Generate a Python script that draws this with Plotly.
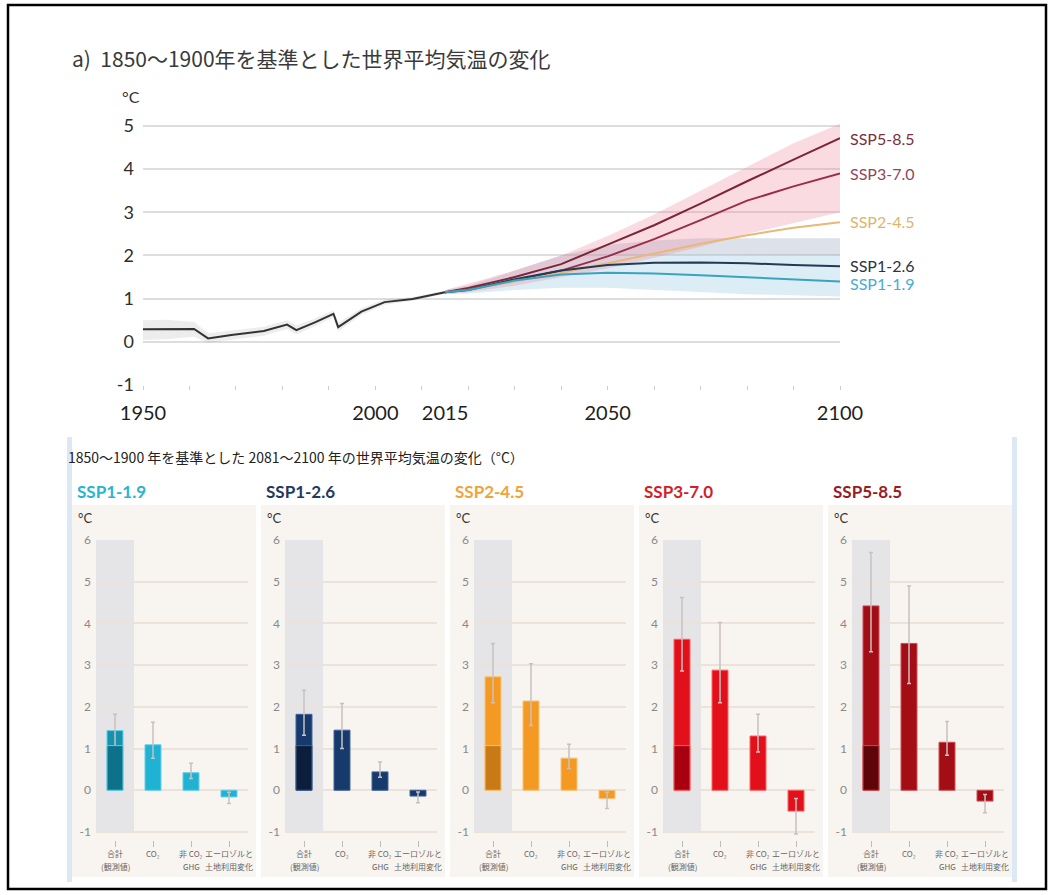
import plotly.graph_objects as go

W, H = 1052, 895

# ---------------- Top chart data ----------------
hist_years = [1950, 1955, 1961, 1964, 1969, 1976, 1981, 1983, 1987, 1991, 1992, 1997, 2002, 2008, 2015]
hist_vals = [0.29, 0.30, 0.30, 0.08, 0.16, 0.25, 0.40, 0.27, 0.45, 0.65, 0.34, 0.70, 0.92, 0.99, 1.15]
hist_lo = [0.04, 0.06, 0.12, -0.03, 0.05, 0.14, 0.30, 0.17, 0.36, 0.57, 0.24, 0.62, 0.86, 0.95, 1.11]
hist_hi = [0.50, 0.51, 0.46, 0.20, 0.26, 0.35, 0.50, 0.38, 0.54, 0.73, 0.44, 0.78, 0.98, 1.04, 1.19]

proj_years = [2015, 2020, 2030, 2040, 2050, 2060, 2070, 2080, 2090, 2100]
ssp585 = [1.15, 1.25, 1.50, 1.80, 2.25, 2.70, 3.20, 3.72, 4.22, 4.72]
ssp370 = [1.15, 1.22, 1.42, 1.65, 1.98, 2.38, 2.82, 3.27, 3.60, 3.90]
ssp245 = [1.15, 1.20, 1.40, 1.60, 1.82, 2.05, 2.27, 2.47, 2.64, 2.77]
ssp126 = [1.15, 1.20, 1.45, 1.65, 1.78, 1.83, 1.84, 1.82, 1.78, 1.75]
ssp119 = [1.15, 1.20, 1.42, 1.56, 1.60, 1.58, 1.54, 1.49, 1.44, 1.40]
red_lo = [1.10, 1.15, 1.30, 1.50, 1.70, 1.95, 2.20, 2.50, 2.75, 3.00]
red_hi = [1.20, 1.35, 1.65, 2.00, 2.45, 2.95, 3.50, 4.05, 4.60, 5.05]
blue_lo = [1.10, 1.12, 1.20, 1.25, 1.25, 1.20, 1.15, 1.10, 1.08, 1.05]
blue_mid = [1.18, 1.26, 1.55, 1.85, 1.98, 2.02, 2.02, 2.02, 2.01, 2.00]
blue_hi = [1.20, 1.30, 1.65, 2.00, 2.25, 2.35, 2.40, 2.40, 2.40, 2.40]

top_labels = ["SSP5-8.5", "SSP3-7.0", "SSP2-4.5", "SSP1-2.6", "SSP1-1.9"]
top_label_y = [4.72, 3.91, 2.78, 1.76, 1.34]
top_label_colors = ["#7a3040", "#93465a", "#dfb46c", "#2a3540", "#45add0"]
top_line_colors = ["#7d2535", "#9b2e45", "#e8b878", "#233a55", "#3ba3c0"]

x_tickvals = [1950, 2000, 2015, 2050, 2100]
y_tickvals_top = [-1, 0, 1, 2, 3, 4, 5]

# ---------------- Bottom chart data ----------------
scenarios = ["SSP1-1.9", "SSP1-2.6", "SSP2-4.5", "SSP3-7.0", "SSP5-8.5"]
cat_line1 = ["合計", "CO₂", "非 CO₂", "エーロゾルと"]
cat_line2 = ["(観測値)", "", "GHG", "土地利用変化"]
total = [1.43, 1.82, 2.72, 3.62, 4.42]
total_lo = [0.98, 1.32, 2.10, 2.86, 3.32]
total_hi = [1.82, 2.40, 3.52, 4.62, 5.70]
co2 = [1.09, 1.44, 2.14, 2.88, 3.52]
co2_lo = [0.77, 1.00, 1.55, 2.10, 2.56]
co2_hi = [1.63, 2.08, 3.03, 4.02, 4.90]
nonco2 = [0.42, 0.44, 0.77, 1.30, 1.15]
nonco2_lo = [0.28, 0.31, 0.52, 0.92, 0.84]
nonco2_hi = [0.65, 0.68, 1.10, 1.82, 1.65]
aer = [-0.16, -0.14, -0.20, -0.50, -0.26]
aer_lo = [-0.32, -0.30, -0.44, -1.05, -0.54]
aer_hi = [-0.05, -0.04, -0.05, -0.20, -0.10]
observed = 1.07

title_colors = ["#2ab4d0", "#1e3a5f", "#f2a33a", "#d11f2a", "#9a1b24"]
main_colors = ["#1fb2d3", "#173a6c", "#f49a22", "#e2101b", "#a30d16"]
total_colors = ["#1592ad", "#163a6c", "#f49a22", "#e2101b", "#a30d16"]
dark_colors = ["#0d7189", "#0b1f3d", "#c97a16", "#a80010", "#5e050a"]
edge_colors = ["#5fcde6", "#3e6196", "#f8c275", "#ff5d5d", "#cf4a50"]

fig = go.Figure()


def px_x(p):
    return p / W


def px_y(p):
    return 1 - p / H


# ---------- Top chart ----------
def band(xv, lo, hi, color):
    fig.add_trace(go.Scatter(x=xv, y=lo, mode="lines", line=dict(width=0),
                             showlegend=False, hoverinfo="skip", xaxis="x", yaxis="y"))
    fig.add_trace(go.Scatter(x=xv, y=hi, mode="lines", line=dict(width=0),
                             fill="tonexty", fillcolor=color,
                             showlegend=False, hoverinfo="skip", xaxis="x", yaxis="y"))


band(hist_years, hist_lo, hist_hi, "rgba(165,165,165,0.2)")
band(proj_years, blue_lo, blue_mid, "rgba(150,200,225,0.33)")
band(proj_years, blue_mid, blue_hi, "rgba(150,165,190,0.33)")
band(proj_years, red_lo, red_hi, "rgba(238,135,160,0.30)")

fig.add_trace(go.Scatter(x=hist_years, y=hist_vals, mode="lines",
                         line=dict(color="#333333", width=2),
                         showlegend=False, xaxis="x", yaxis="y"))
for name, series, col in zip(top_labels, [ssp585, ssp370, ssp245, ssp126, ssp119], top_line_colors):
    fig.add_trace(go.Scatter(x=proj_years, y=series, mode="lines", name=name,
                             line=dict(color=col, width=2), showlegend=False,
                             xaxis="x", yaxis="y"))

annotations = []
for lab, yv, col in zip(top_labels, top_label_y, top_label_colors):
    annotations.append(dict(x=2100, y=yv, xref="x", yref="y", text=lab, showarrow=False,
                            xanchor="left", yanchor="middle", xshift=8,
                            font=dict(family="Lato", size=16, color=col)))

annotations.append(dict(x=px_x(70), y=px_y(58), xref="paper", yref="paper",
                        text="a)  1850〜1900年を基準とした世界平均気温の変化", showarrow=False,
                        xanchor="left", yanchor="middle",
                        font=dict(family="Noto Sans CJK JP", size=21, color="#3a3a3a")))
annotations.append(dict(x=px_x(120), y=px_y(96), xref="paper", yref="paper",
                        text="°C", showarrow=False, xanchor="left", yanchor="middle",
                        font=dict(family="Lato", size=16, color="#333333")))

layout_axes = {}
layout_axes["xaxis"] = dict(domain=[px_x(143), px_x(840)], range=[1950, 2100],
                            tickvals=x_tickvals, ticktext=[str(v) for v in x_tickvals],
                            showgrid=False, zeroline=False, showline=False, ticks="",
                            tickfont=dict(family="Lato", size=20, color="#1e1e1e"),
                            ticklabelstandoff=14, tickangle=0, automargin=False,
                            minor=dict(ticks="outside", dtick=10, ticklen=4, tickcolor="#cccccc",
                                       tick0=1950, showgrid=False),
                            anchor="y", fixedrange=True)
layout_axes["yaxis"] = dict(domain=[px_y(385), px_y(119.5)], range=[-1, 5.15],
                            tickvals=y_tickvals_top, ticktext=[str(v) for v in y_tickvals_top],
                            showgrid=True, gridcolor="#dddddd", gridwidth=2,
                            zeroline=False, showline=False, ticks="",
                            tickfont=dict(family="Lato", size=18, color="#2e2e2e"),
                            ticklabelstandoff=8, automargin=False, anchor="x", fixedrange=True)

shapes = []
# outer frame
shapes.append(dict(type="rect", xref="paper", yref="paper",
                   x0=px_x(8), x1=px_x(1046), y0=px_y(889), y1=px_y(5),
                   line=dict(color="#000000", width=2.5), fillcolor="rgba(0,0,0,0)", layer="above"))
# blue side lines of lower panel
for xp in [69.5, 1014.5]:
    shapes.append(dict(type="line", xref="paper", yref="paper",
                       x0=px_x(xp), x1=px_x(xp), y0=px_y(882), y1=px_y(437),
                       line=dict(color="#dce9f4", width=5), layer="below"))

annotations.append(dict(x=px_x(66), y=px_y(457), xref="paper", yref="paper",
                        text="1850〜1900 年を基準とした 2081〜2100 年の世界平均気温の変化（°C）",
                        showarrow=False, xanchor="left", yanchor="middle",
                        font=dict(family="Noto Sans CJK JP", size=14, color="#222222")))

# ---------- Bottom panels ----------
xs = [0, 1, 2, 3]
panel_w = 184
gap = 5
for i, sc in enumerate(scenarios):
    ax = i + 2
    xa = f"x{ax}"
    ya = f"y{ax}"
    left = 72 + i * (panel_w + gap)
    right = left + panel_w
    # panel background
    shapes.append(dict(type="rect", xref="paper", yref="paper",
                       x0=px_x(left), x1=px_x(right), y0=px_y(877), y1=px_y(505),
                       fillcolor="#f8f4ef", line=dict(width=0), layer="below"))
    # shaded 'total' column
    shapes.append(dict(type="rect", xref=xa, yref=ya, x0=-0.5, x1=0.5, y0=-1, y1=6,
                       fillcolor="#e5e5e8", line=dict(width=0), layer="below"))

    vals = [total[i], co2[i], nonco2[i], aer[i]]
    los = [total_lo[i], co2_lo[i], nonco2_lo[i], aer_lo[i]]
    his = [total_hi[i], co2_hi[i], nonco2_hi[i], aer_hi[i]]
    colors = [total_colors[i], main_colors[i], main_colors[i], main_colors[i]]
    fig.add_trace(go.Bar(x=xs, y=vals, width=0.42, marker=dict(color=colors,
                         line=dict(color=edge_colors[i], width=1)),
                         error_y=dict(type="data", symmetric=False,
                                      array=[h - v for h, v in zip(his, vals)],
                                      arrayminus=[v - l for v, l in zip(vals, los)],
                                      color="#c9c1c1", thickness=1.5, width=2),
                         showlegend=False, xaxis=xa, yaxis=ya))
    fig.add_trace(go.Bar(x=[0], y=[observed], width=0.42,
                         marker=dict(color=dark_colors[i], line=dict(color=edge_colors[i], width=1)),
                         showlegend=False, xaxis=xa, yaxis=ya))

    layout_axes[f"xaxis{ax}"] = dict(domain=[px_x(left + 24), px_x(right - 8)], range=[-0.5, 3.5],
                                     tickvals=xs, showticklabels=False, showgrid=False,
                                     zeroline=False, showline=False, ticks="outside", ticklen=6,
                                     tickcolor="#bbbbbb", tickwidth=1, automargin=False,
                                     anchor=ya, fixedrange=True)
    layout_axes[f"yaxis{ax}"] = dict(domain=[px_y(840.3), px_y(540)], range=[-1.2, 6],
                                     tickvals=[-1, 0, 1, 2, 3, 4, 5, 6],
                                     ticktext=["-1", "0", "1", "2", "3", "4", "5", "6"],
                                     showgrid=True, gridcolor="#e9e3dc", gridwidth=1.5,
                                     zeroline=False, showline=False, ticks="",
                                     tickfont=dict(family="Lato", size=12, color="#8a8a8a"),
                                     ticklabelstandoff=4, automargin=False, anchor=xa, fixedrange=True)

    # category labels (two lines) under each tick
    for k in xs:
        annotations.append(dict(x=k, y=px_y(853), xref=xa, yref="paper", text=cat_line1[k],
                                showarrow=False, xanchor="center", yanchor="middle",
                                font=dict(family="Noto Sans CJK JP", size=8, color="#666666")))
        if cat_line2[k]:
            annotations.append(dict(x=k, y=px_y(866), xref=xa, yref="paper", text=cat_line2[k],
                                    showarrow=False, xanchor="center", yanchor="middle",
                                    font=dict(family="Noto Sans CJK JP", size=8, color="#666666")))

    annotations.append(dict(x=px_x(left + 3), y=px_y(491), xref="paper", yref="paper",
                            text=sc, showarrow=False, xanchor="left", yanchor="middle",
                            font=dict(family="Lato", size=17, color=title_colors[i], weight="bold")))
    annotations.append(dict(x=px_x(left + 4), y=px_y(518), xref="paper", yref="paper",
                            text="°C", showarrow=False, xanchor="left", yanchor="middle",
                            font=dict(family="Lato", size=13, color="#333333")))

fig.update_layout(width=W, height=H, margin=dict(l=0, r=0, t=0, b=0, autoexpand=False),
                  paper_bgcolor="#ffffff", plot_bgcolor="rgba(0,0,0,0)",
                  barmode="overlay", showlegend=False,
                  annotations=annotations, shapes=shapes, **layout_axes)

fig.write_html("out.html", config={"displayModeBar": False},
               post_script="document.body.style.margin='0px';document.body.style.overflow='hidden';")
